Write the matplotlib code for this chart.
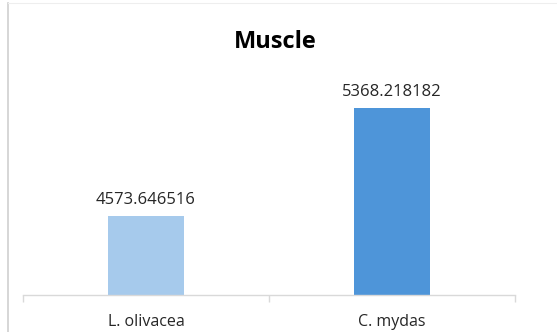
import matplotlib.pyplot as plt
from matplotlib.lines import Line2D

species = ["L. olivacea", "C. mydas"]
muscle_values = [4573.646516, 5368.218182]
bar_colors = ["#A6CAEC", "#4E95D9"]
title_text = "Muscle"

plt.rcParams['font.family'] = ['Open Sans', 'DejaVu Sans']

W, H = 557, 332
fig = plt.figure(figsize=(W / 100, H / 100), dpi=100)
ax = fig.add_axes([23 / W, (H - 294.5) / H, (515 - 23) / W, (294.5 - 76.7) / H])

x = list(range(len(species)))
bars = ax.bar(x, muscle_values, width=0.31, color=bar_colors, zorder=2)
ax.set_xlim(-0.5, len(species) - 0.5)
ax.set_ylim(4000, 5600)

for xi, v in zip(x, muscle_values):
    ax.annotate(f"{v:.6f}", (xi, v), xytext=(0, 6), textcoords="offset points",
                ha="center", va="bottom", fontsize=12, color="#262626")

ax.set_xticks([-0.5, 0.5, 1.5], minor=False)
ax.set_xticklabels([])
ax.set_xticks(x, minor=True)
ax.set_xticklabels(species, minor=True, fontsize=11.5, color="#262626")
ax.tick_params(axis="x", which="major", length=5, color="#D9D9D9", width=1)
ax.tick_params(axis="x", which="minor", length=0, pad=14)
ax.set_yticks([])
for s in ["top", "right", "left"]:
    ax.spines[s].set_visible(False)
ax.spines["bottom"].set_color("#D9D9D9")
ax.spines["bottom"].set_linewidth(1)

fig.text(275 / W, 1 - 42 / H, title_text, ha="center", va="center",
         fontsize=17, fontweight="bold", color="black")

fig.add_artist(Line2D([7.5 / W, 7.5 / W], [0, 1 - 3 / H], color="#D0D0D0", lw=1.2))
fig.add_artist(Line2D([7.5 / W, 1], [1 - 3 / H, 1 - 3 / H], color="#EEEEEE", lw=0.8))

fig.savefig("out.png", dpi=100, facecolor="white")
